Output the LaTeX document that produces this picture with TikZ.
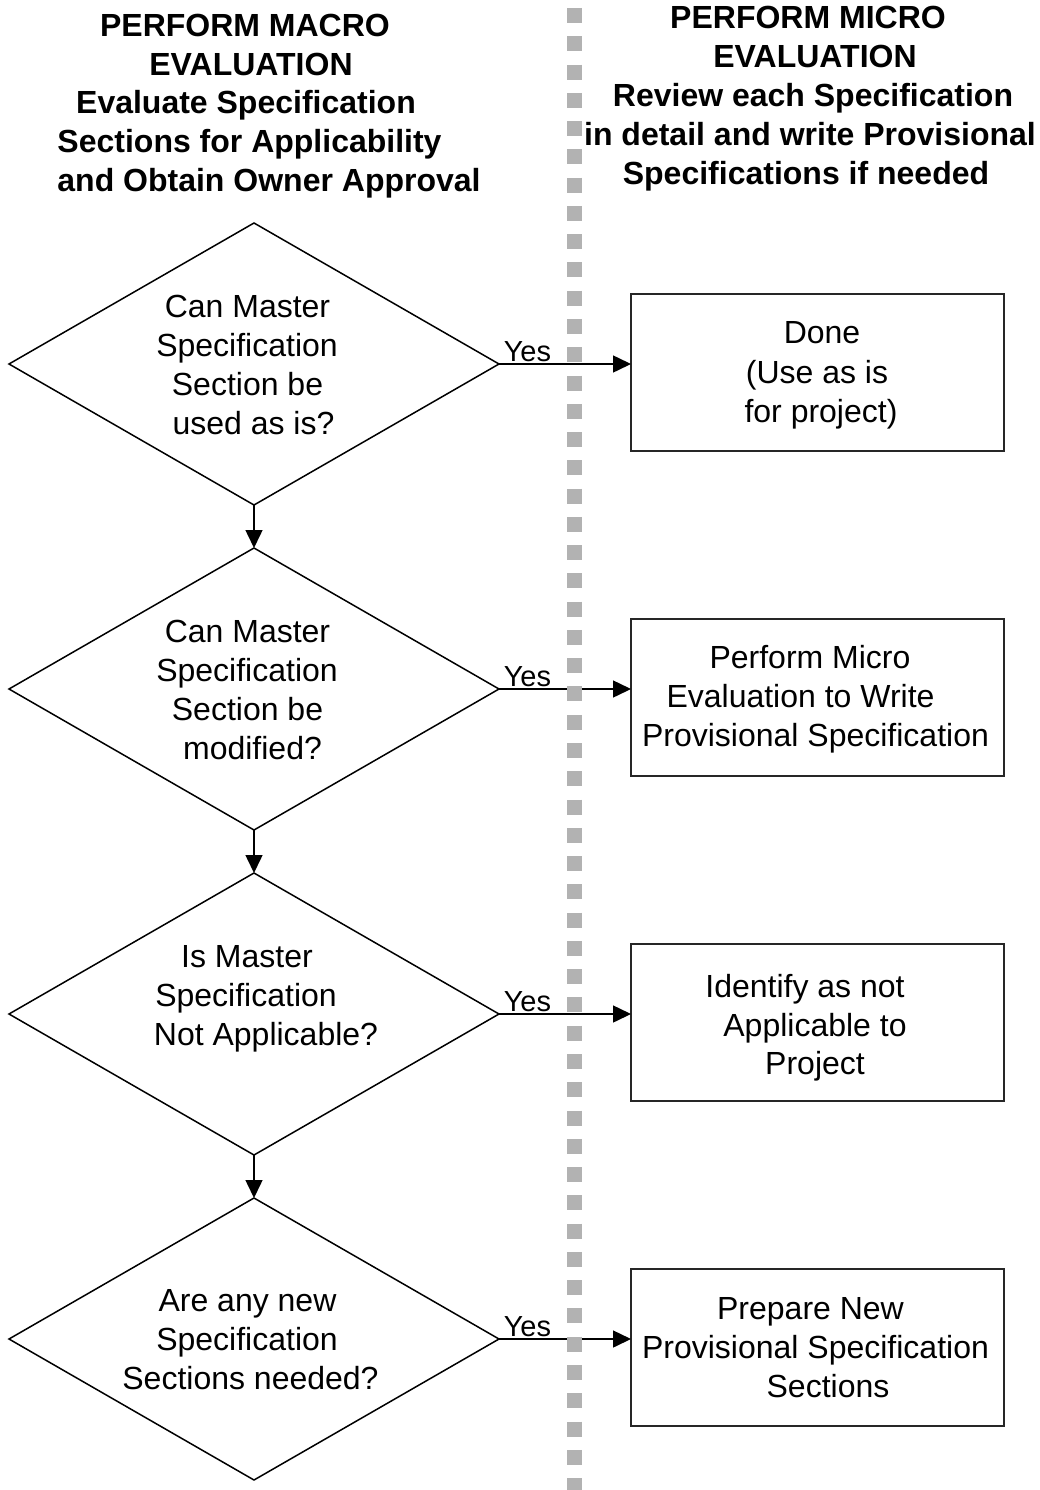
\documentclass[tikz,border=0pt]{standalone}
\usepackage{fontspec}
\setmainfont{Liberation Sans}
\usetikzlibrary{shapes.geometric,arrows.meta}
\definecolor{lanegray}{RGB}{178,178,178}
\tikzset{
  decision/.style={diamond, draw=black, line width=1.5pt, minimum width=490pt, minimum height=282pt, inner sep=0pt, outer sep=0pt},
  actionbox/.style={rectangle, draw=black!85, line width=2pt, minimum width=373pt, minimum height=157pt, inner sep=0pt, outer sep=0pt},
  arr/.style={draw=black, line width=1.5pt, -{Triangle[length=18pt,width=17pt]}},
  txt/.style={font=\fontsize{32}{39}\selectfont, anchor=base, inner sep=0pt},
  ttl/.style={font=\fontsize{32}{39}\selectfont\bfseries, anchor=base, inner sep=0pt},
  yes/.style={font=\fontsize{29}{32}\selectfont, anchor=base west, inner sep=0pt},
  lane/.style={draw=lanegray, line width=15pt, dash pattern=on 15pt off 13.27pt}
}
\begin{document}
\begin{tikzpicture}[x=1pt,y=-1pt]
\useasboundingbox (0,0) rectangle (1039,1490);
% titles
\node[ttl] (lt1) at (245,37) {PERFORM MACRO};
\node[ttl] (lt2) at (251,76) {EVALUATION};
\node[ttl] (lt3) at (246,114) {Evaluate Specification};
\node[ttl] (lt4) at (249.5,153) {Sections for Applicability};
\node[ttl] (lt5) at (269,192) {and Obtain Owner Approval};
\node[ttl] (rt1) at (808,29) {PERFORM MICRO};
\node[ttl] (rt2) at (815,68) {EVALUATION};
\node[ttl] (rt3) at (813,107) {Review each Specification};
\node[ttl] (rt4) at (810,146) {in detail and write Provisional};
\node[ttl] (rt5) at (806,185) {Specifications if needed};
% decisions
\node[decision] (d1) at (254,364) {};
\node[decision] (d2) at (254,689) {};
\node[decision] (d3) at (254,1014) {};
\node[decision] (d4) at (254,1339) {};
% boxes
\node[actionbox] (b1) at (817.5,372.5) {};
\node[actionbox] (b2) at (817.5,697.5) {};
\node[actionbox] (b3) at (817.5,1022.5) {};
\node[actionbox] (b4) at (817.5,1347.5) {};
% decision texts
\node[txt] (d1a) at (247.5,317) {Can Master};
\node[txt] (d1b) at (247,356) {Specification};
\node[txt] (d1c) at (247.5,395) {Section be};
\node[txt] (d1d) at (253.5,434) {used as is?};
\node[txt] (d2a) at (247.5,642) {Can Master};
\node[txt] (d2b) at (247,681) {Specification};
\node[txt] (d2c) at (247.5,720) {Section be};
\node[txt] (d2d) at (252.5,759) {modified?};
\node[txt] (d3a) at (247,967) {Is Master};
\node[txt] (d3b) at (246,1006) {Specification};
\node[txt] (d3c) at (266,1045) {Not Applicable?};
\node[txt] (d4a) at (247.5,1311) {Are any new};
\node[txt] (d4b) at (247,1350) {Specification};
\node[txt] (d4c) at (250.5,1389) {Sections needed?};
% box texts
\node[txt] (b1a) at (822,343.5) {Done};
\node[txt] (b1b) at (817,383) {(Use as is};
\node[txt] (b1c) at (821,422) {for project)};
\node[txt] (b2a) at (810,668.5) {Perform Micro};
\node[txt] (b2b) at (800.5,707.5) {Evaluation to Write};
\node[txt] (b2c) at (815.5,746.5) {Provisional Specification};
\node[txt] (b3a) at (805,997.5) {Identify as not};
\node[txt] (b3b) at (815,1036) {Applicable to};
\node[txt] (b3c) at (815,1074) {Project};
\node[txt] (b4a) at (810.5,1319.5) {Prepare New};
\node[txt] (b4b) at (815.5,1358.5) {Provisional Specification};
\node[txt] (b4c) at (828,1397.5) {Sections};
% connectors
\draw[arr] (d1.south) -- (d2.north);
\draw[arr] (d2.south) -- (d3.north);
\draw[arr] (d3.south) -- (d4.north);
\draw[arr] (d1.east) -- (d1.east -| b1.west) node[yes, pos=0, xshift=4pt, yshift=3pt] (y1) {Yes};
\draw[arr] (d2.east) -- (d2.east -| b2.west) node[yes, pos=0, xshift=4pt, yshift=3pt] (y2) {Yes};
\draw[arr] (d3.east) -- (d3.east -| b3.west) node[yes, pos=0, xshift=4pt, yshift=3pt] (y3) {Yes};
\draw[arr] (d4.east) -- (d4.east -| b4.west) node[yes, pos=0, xshift=4pt, yshift=3pt] (y4) {Yes};
% swimlane divider
\coordinate (lanetop) at (574.5,8);
\coordinate (lanebot) at (574.5,1490);
\draw[lane] (lanetop) -- (lanebot);
\end{tikzpicture}
\end{document}
